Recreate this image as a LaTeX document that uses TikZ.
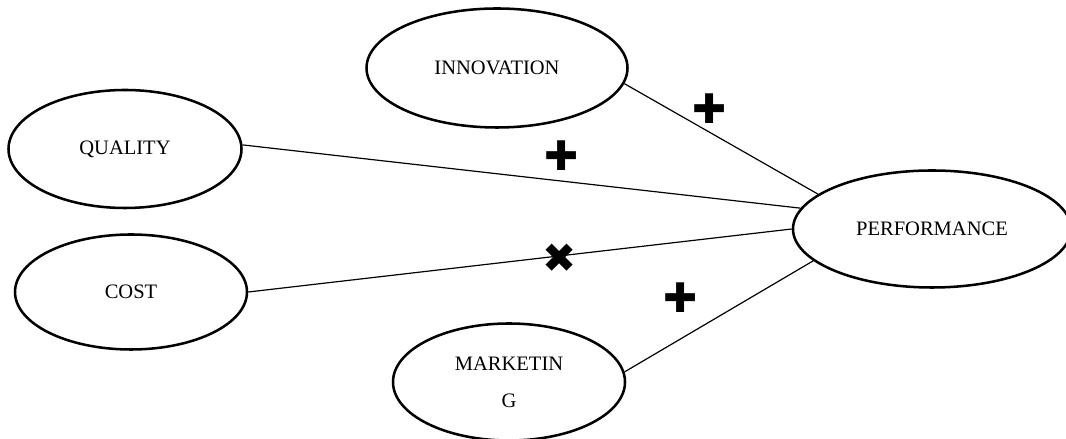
\documentclass[tikz,border=0pt]{standalone}
\usepackage{fontspec}
\setmainfont{Liberation Serif}
\newfontfamily\signfont{DejaVu Sans}
\usetikzlibrary{shapes.geometric}

\begin{document}
\begin{tikzpicture}[
	construct/.style={draw, ellipse, line width=1.8pt, inner sep=0pt, align=center,
		font=\fontsize{14.6}{17}\selectfont},
	link/.style={line width=0.85pt},
	sign/.style={inner sep=0pt, font=\signfont\fontsize{29}{29}\selectfont}]
	\useasboundingbox (0, 0) rectangle (26.65, 10.975);

	% constructs
	\node[construct, minimum width=6.525cm, minimum height=2.975cm] (innovation) at (12.425, 9.275) {INNOVATION};
	\node[construct, minimum width=5.825cm, minimum height=2.95cm] (quality) at (3.125, 7.25) {QUALITY};
	\node[construct, minimum width=5.8cm, minimum height=2.875cm] (cost) at (3.275, 3.675) {COST};
	\node[construct, minimum width=5.8cm, minimum height=2.925cm] (marketing) at (12.725, 1.425) {MARKETIN\\[0.33cm]G};
	\node[construct, minimum width=6.95cm, minimum height=2.925cm] (performance) at (23.3, 5.25) {PERFORMANCE};

	% relations
	\draw[link] (innovation.-7.6) -- (performance.163.3);
	\draw[link] (quality.2.9) -- (performance.171.3);
	\draw[link] (cost.east) -- (performance.west);
	\draw[link] (marketing.5.9) -- (performance.195.4);

	% signs
	\node[sign] (innovationsign) at (17.75, 8.25) {✚};
	\node[sign] (qualitysign) at (14.05, 7.075) {✚};
	\node[sign] (costsign) at (14.0, 4.525) {✖};
	\node[sign] (marketingsign) at (17.025, 3.525) {✚};
\end{tikzpicture}
\end{document}
